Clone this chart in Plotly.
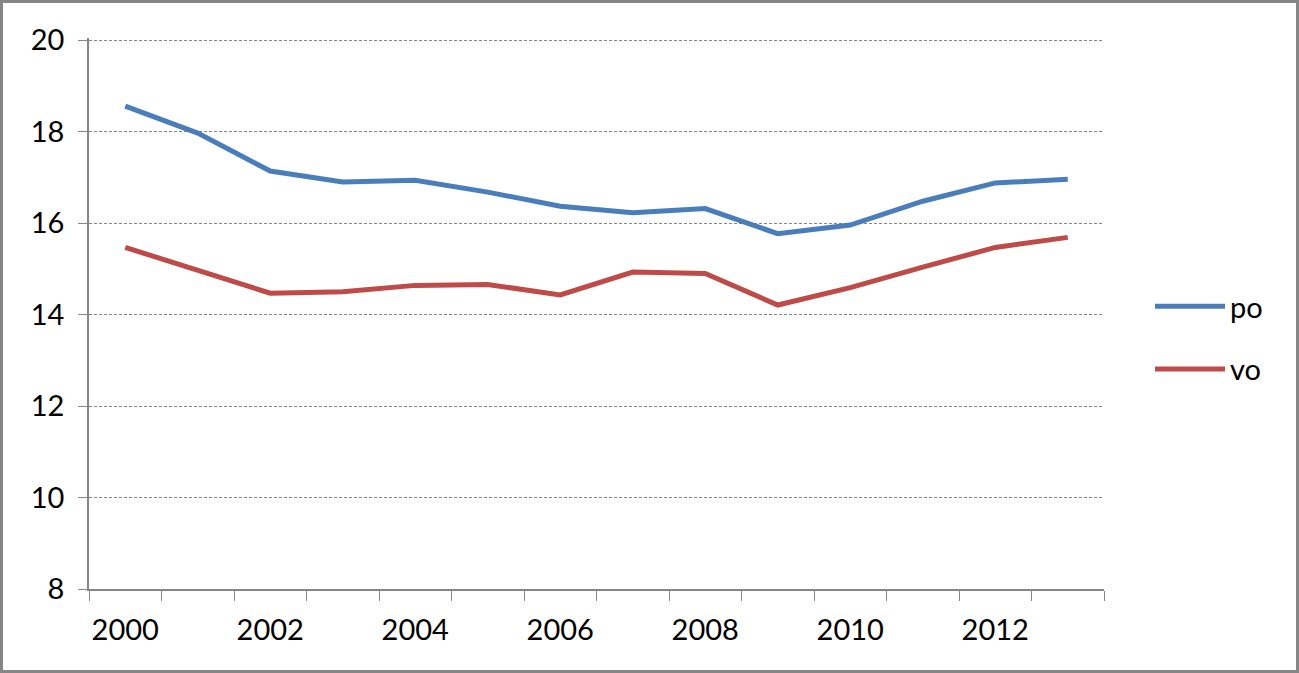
import plotly.graph_objects as go

years = [str(y) for y in range(2000, 2014)]
tick_text = [y if int(y) % 2 == 0 else "" for y in years]
po = [18.56, 17.97, 17.14, 16.90, 16.94, 16.68, 16.37, 16.23, 16.32, 15.77, 15.96, 16.48, 16.88, 16.96]
vo = [15.47, 14.97, 14.47, 14.50, 14.64, 14.66, 14.43, 14.93, 14.90, 14.21, 14.59, 15.04, 15.47, 15.69]
y_ticks = [8, 10, 12, 14, 16, 18, 20]

FONT = "Lato"
GRAY = "#868686"

fig = go.Figure()
fig.add_trace(go.Scatter(x=years, y=po, name="po", mode="lines", legendgroup="a",
                         line=dict(color="#4A7EBB", width=5)))
fig.add_trace(go.Scatter(x=years, y=vo, name="vo", mode="lines", legendgroup="b",
                         line=dict(color="#BE4B48", width=5)))

W, H = 1299, 673
L, R, T, B = 89, 195, 38, 84
pw, ph = W - L - R, H - T - B

def px(x):
    return (x - L) / pw

def py(y):
    return (H - B - y) / ph

fig.add_shape(type="rect", xref="paper", yref="paper",
              x0=px(1.5), x1=px(1297.5), y0=py(671.5), y1=py(1.5),
              line=dict(color=GRAY, width=3), layer="below")

fig.update_layout(
    width=W, height=H,
    margin=dict(l=L, r=R, t=T, b=B),
    paper_bgcolor="white", plot_bgcolor="white",
    font=dict(family=FONT, size=29, color="black"),
    showlegend=True,
    legend=dict(x=px(1150), xanchor="left", y=py(338), yanchor="middle",
                font=dict(size=29, family=FONT), traceorder="grouped",
                tracegroupgap=22, itemwidth=70, bgcolor="rgba(0,0,0,0)"),
    xaxis=dict(type="category", range=[-0.5, 13.5], tickmode="array",
               tickvals=years, ticktext=tick_text, tickson="boundaries",
               tickangle=0, ticklabelstandoff=14,
               ticks="outside", ticklen=10, tickcolor=GRAY, tickwidth=1,
               showline=True, linecolor=GRAY, linewidth=1.5, showgrid=False,
               zeroline=False, tickfont=dict(size=29, family=FONT)),
    yaxis=dict(range=[8, 20.05], tickmode="array", tickvals=y_ticks,
               ticks="outside", ticklen=9, tickcolor=GRAY, tickwidth=1,
               showline=True, linecolor=GRAY, linewidth=1.5,
               showgrid=True, gridcolor=GRAY, gridwidth=1, griddash="3px,2px",
               zeroline=False, ticklabelstandoff=8,
               tickfont=dict(size=29, family=FONT)),
)

fig.write_html("out.html")
